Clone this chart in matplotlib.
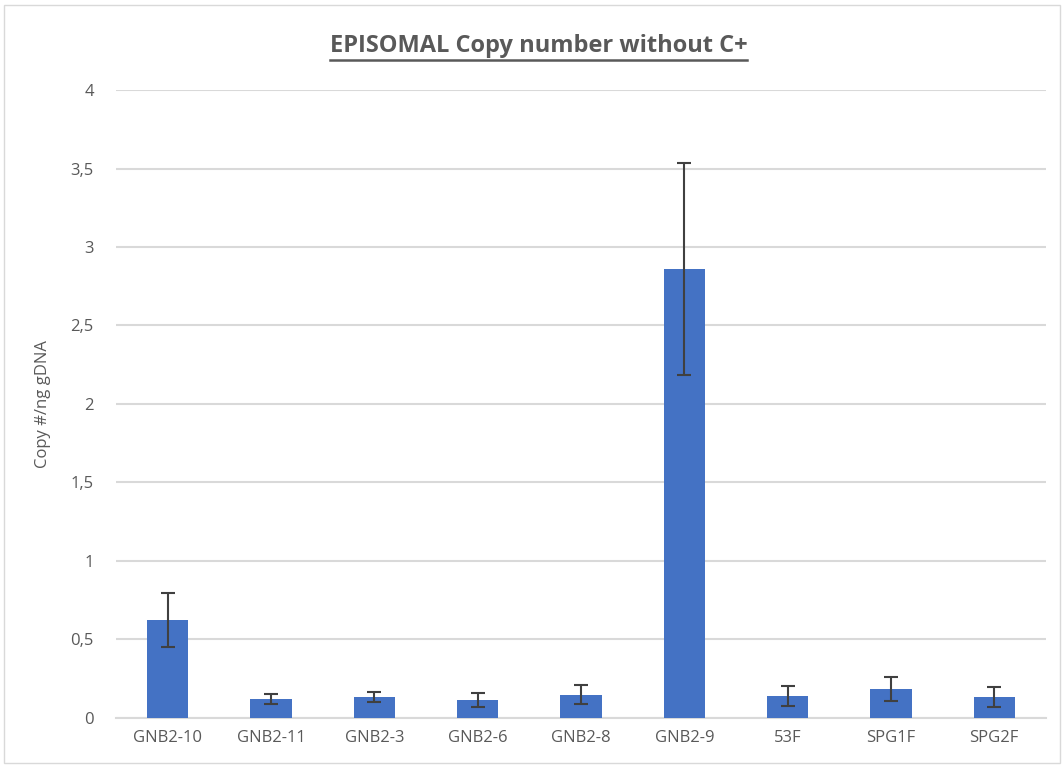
import matplotlib
matplotlib.use('Agg')
import matplotlib.pyplot as plt
from matplotlib.patches import Rectangle
from matplotlib.lines import Line2D

## EPISOMAL copy number per sample, without C+ ##

samples = ['GNB2-10', 'GNB2-11', 'GNB2-3', 'GNB2-6', 'GNB2-8', 'GNB2-9', '53F', 'SPG1F', 'SPG2F']
copy_number = [0.623, 0.121, 0.134, 0.112, 0.147, 2.86, 0.140, 0.183, 0.134]
err = [0.174, 0.03, 0.03, 0.045, 0.06, 0.675, 0.066, 0.078, 0.066]
y_ticks = [0, 0.5, 1, 1.5, 2, 2.5, 3, 3.5, 4]
y_tick_labels = ['0', '0,5', '1', '1,5', '2', '2,5', '3', '3,5', '4']

text_col = '#595959'
grid_col = '#d9d9d9'

plt.rcParams['font.family'] = ['Open Sans', 'DejaVu Sans']

fig = plt.figure(figsize=(10.64, 7.66), dpi=100)
ax = fig.add_axes([0.109, 0.0627, 0.874, 0.8198])

x = list(range(len(samples)))
ax.bar(x, copy_number, width=0.4, color='#4472C4', zorder=3)
ax.errorbar(x, copy_number, yerr=err, fmt='none', ecolor='#404040',
            elinewidth=1.5, capsize=5, capthick=1.5, zorder=4)

ax.set_xlim(-0.5, len(samples) - 0.5)
ax.set_ylim(0, 4)
ax.set_yticks(y_ticks)
ax.set_yticklabels(y_tick_labels)
ax.set_xticks(x)
ax.set_xticklabels(samples)
ax.tick_params(axis='both', length=0, colors=text_col, labelsize=12)
ax.tick_params(axis='x', pad=9)
ax.tick_params(axis='y', pad=16)
ax.yaxis.grid(True, color=grid_col, linewidth=1.5, zorder=0)
for s in ['top', 'right', 'left']:
    ax.spines[s].set_visible(False)
ax.spines['bottom'].set_color(grid_col)
ax.spines['bottom'].set_linewidth(1.5)

ax.set_ylabel('Copy #/ng gDNA', color=text_col, fontsize=12, labelpad=14)

# title, underlined
t = fig.text(0.506, 0.94, 'EPISOMAL Copy number without C+', ha='center', va='center',
             fontsize=17, fontweight='bold', color=text_col)
fig.canvas.draw()
bb = t.get_window_extent().transformed(fig.transFigure.inverted())
fig.add_artist(Line2D([bb.x0, bb.x1], [bb.y0 - 0.003, bb.y0 - 0.003],
                      transform=fig.transFigure, color=text_col, linewidth=1.8))

# chart border
fig.add_artist(Rectangle((0.004, 0.004), 0.992, 0.99, transform=fig.transFigure,
                         fill=False, edgecolor='#d9d9d9', linewidth=1))

plt.savefig('out.png', dpi=100)
